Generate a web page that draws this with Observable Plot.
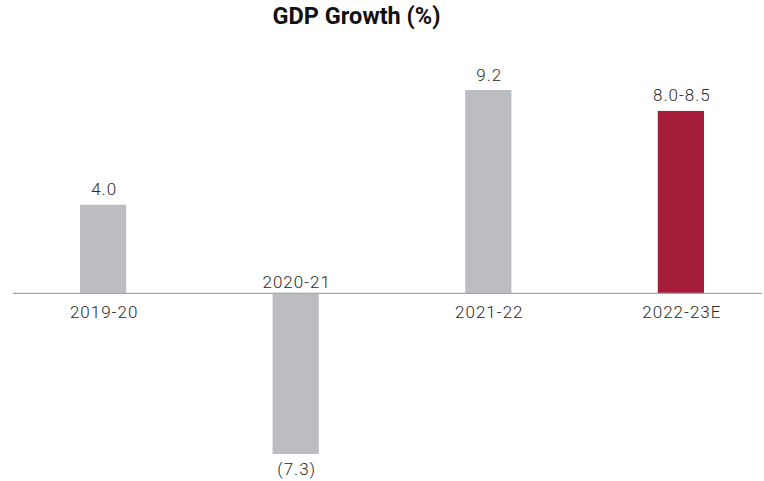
<!DOCTYPE html>
<html>
<head>
<meta charset="utf-8">
<script src="https://cdn.jsdelivr.net/npm/d3@7"></script>
<script src="https://cdn.jsdelivr.net/npm/@observablehq/plot@0.6"></script>
<style>
  body { margin: 0; background: #fff; font-family: Roboto, sans-serif; }
  #title { width: 713px; height: 40px; text-align: center; font-weight: bold; font-size: 23.5px; color: #111; line-height: 23px; padding-top: 5px; box-sizing: border-box; }
  #chart text { letter-spacing: 1px; }
</style>
</head>
<body>
<div id="title">GDP Growth (%)</div>
<div id="chart"></div>
<script>
const years = ["2019-20", "2020-21", "2021-22", "2022-23E"];
const growth = [4.0, -7.3, 9.2, 8.25];
const valueLabels = ["4.0", "(7.3)", "9.2", "8.0-8.5"];
const barColors = ["#bcbdc0", "#bcbdc0", "#bcbdc0", "#a51c3a"];

const data = years.map((y, i) => ({year: y, value: growth[i], label: valueLabels[i], color: barColors[i]}));
const pos = data.filter(d => d.value >= 0);
const neg = data.filter(d => d.value < 0);

const txt = {fill: "#2a2a2a", fontSize: 17, fontWeight: 300};

const chart = Plot.plot({
  width: 764,
  height: 441,
  marginTop: 50,
  marginBottom: 27,
  marginLeft: 13,
  marginRight: 2,
  style: {fontFamily: "Roboto, sans-serif", fontSize: "17px", color: "#333"},
  x: {domain: years, paddingInner: 0.76, paddingOuter: 0.3245, align: 0.536, round: false, axis: null},
  y: {domain: [-7.3, 9.2], axis: null},
  marks: [
    Plot.barY(data, {x: "year", y: "value", fill: "color"}),
    Plot.ruleY([0], {stroke: "#a6a6a6", strokeWidth: 1.2}),
    Plot.text(pos, {x: "year", y: "value", text: "label", lineAnchor: "bottom", dy: -10, dx: 0.5, ...txt}),
    Plot.text(pos, {x: "year", y: 0, text: "year", lineAnchor: "top", dy: 12, dx: 0.5, ...txt}),
    Plot.text(neg, {x: "year", y: "value", text: "label", lineAnchor: "top", dy: 8, dx: 0.5, ...txt}),
    Plot.text(neg, {x: "year", y: 0, text: "year", lineAnchor: "bottom", dy: -5, dx: 0.5, ...txt})
  ]
});
document.getElementById("chart").appendChild(chart);
</script>
</body>
</html>
